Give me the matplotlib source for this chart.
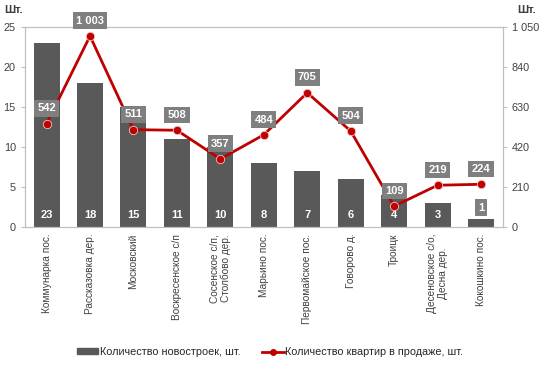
import matplotlib
matplotlib.use("Agg")
import matplotlib.pyplot as plt
from matplotlib.ticker import FuncFormatter
from matplotlib.patches import Patch
from matplotlib.lines import Line2D

categories = ["Коммунарка пос.", "Рассказовка дер.", "Московский", "Воскресенское с/п",
              "Сосенское с/п,\nСтолбово дер.", "Марьино пос.", "Первомайское пос.",
              "Говорово д.", "Троицк", "Десеновское с/о,\nДесна дер.", "Кокошкино пос."]
buildings = [23, 18, 15, 11, 10, 8, 7, 6, 4, 3, 1]
flats = [542, 1003, 511, 508, 357, 484, 705, 504, 109, 219, 224]
left_ticks = [0, 5, 10, 15, 20, 25]
right_ticks = [0, 210, 420, 630, 840, 1050]

plt.rcParams['font.family'] = ['Liberation Sans', 'DejaVu Sans']

fig = plt.figure(figsize=(5.4, 3.66), dpi=100)
ax = fig.add_axes([0.046, 0.380, 0.885, 0.546])
ax2 = ax.twinx()

x = list(range(len(categories)))
bar_color = "#595959"
line_color = "#C00000"
box_color = "#7F7F7F"
axis_color = "#BFBFBF"

ax.bar(x, buildings, width=0.6, color=bar_color, zorder=2)
ax.set_ylim(0, 25)
ax.set_xlim(-0.5, len(categories) - 0.5)
ax.set_yticks(left_ticks)
ax.set_xticks(x)
ax.set_xticklabels(categories, rotation=90, fontsize=7.3, color="#404040",
                   ha="center", va="top", multialignment="center")
ax.tick_params(axis='x', length=0, pad=5)
ax.tick_params(axis='y', labelsize=7.8, colors="#404040", length=3, color=axis_color)

ax2.plot(x, flats, color=line_color, linewidth=2.0, marker='o', markersize=6,
         markerfacecolor=line_color, markeredgecolor="#F2C0C0", markeredgewidth=0.6,
         zorder=4)
ax2.set_ylim(0, 1050)
ax2.set_yticks(right_ticks)
ax2.yaxis.set_major_formatter(FuncFormatter(lambda v, p: f"{int(v):,}".replace(",", " ")))
ax2.tick_params(axis='y', labelsize=7.8, colors="#404040", length=3, color=axis_color)

for a in (ax, ax2):
    for s in a.spines.values():
        s.set_color(axis_color)
        s.set_linewidth(0.8)

# bar value labels
for xi, v in zip(x, buildings):
    if v >= 3:
        ax.annotate(str(v), (xi, 0), xytext=(0, 8.5), textcoords="offset points",
                    ha="center", va="center", color="white", fontsize=8,
                    fontweight="bold", zorder=5)
    else:
        ax.annotate(str(v), (xi, v), xytext=(0, 8), textcoords="offset points",
                    ha="center", va="center", color="white", fontsize=8,
                    fontweight="bold", zorder=5,
                    bbox=dict(boxstyle="square,pad=0.3", fc=box_color, ec="none"))

# line value labels
for xi, v in zip(x, flats):
    lbl = f"{v:,}".replace(",", " ")
    ax2.annotate(lbl, (xi, v), xytext=(0, 11), textcoords="offset points",
                 ha="center", va="center", color="white", fontsize=8,
                 fontweight="bold", zorder=6,
                 bbox=dict(boxstyle="square,pad=0.3", fc=box_color, ec="none"))

fig.text(0.008, 0.972, "Шт.", fontsize=8, fontweight="bold", color="#404040",
         ha="left", va="center")
fig.text(0.992, 0.972, "Шт.", fontsize=8, fontweight="bold", color="#404040",
         ha="right", va="center")

handles = [Patch(color=bar_color),
           Line2D([0], [0], color=line_color, linewidth=2.0, marker='o', markersize=4,
                  markerfacecolor=line_color, markeredgecolor=line_color)]
labels = ["Количество новостроек, шт.", "Количество квартир в продаже, шт."]
fig.legend(handles, labels, loc="center", bbox_to_anchor=(0.5, 0.038), ncol=2,
           frameon=False, fontsize=7.8, handlelength=2.0, handleheight=0.5,
           columnspacing=2.0, handletextpad=0.15, labelcolor="#262626")

fig.savefig("out.png", dpi=100)
